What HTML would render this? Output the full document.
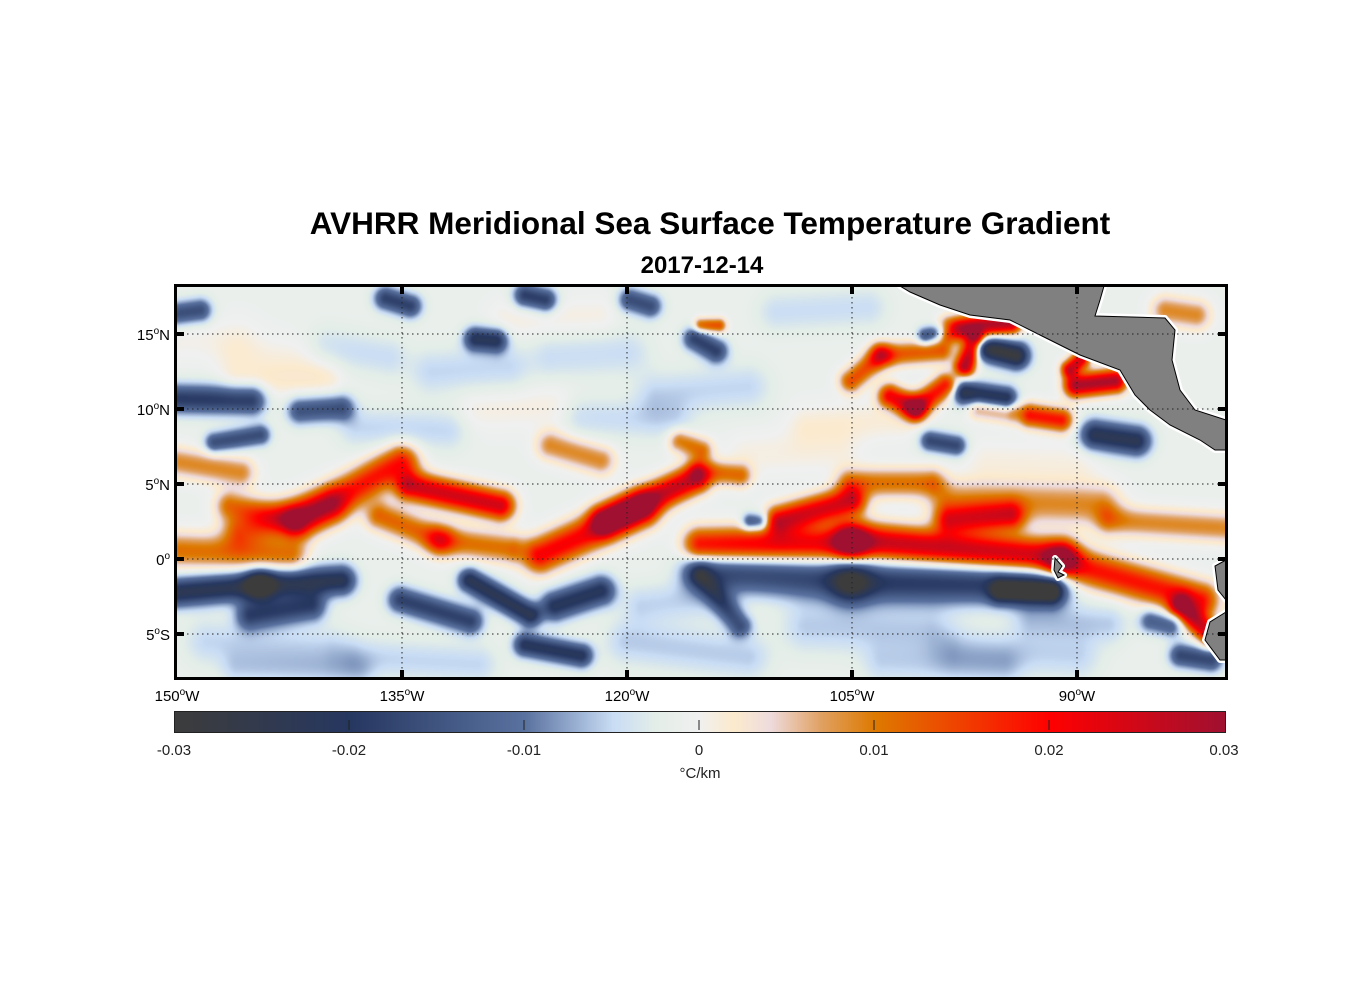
<!DOCTYPE html>
<html><head><meta charset="utf-8">
<style>
body{margin:0;background:#fff;width:1356px;height:1000px;overflow:hidden;position:relative;font-family:"Liberation Sans",sans-serif;}
.t{position:absolute;white-space:nowrap;color:#000;}
</style></head>
<body>
<div class="t" style="left:0;width:1420px;text-align:center;top:205px;font-size:31.5px;font-weight:bold;">AVHRR Meridional Sea Surface Temperature Gradient</div>
<div class="t" style="left:0;width:1404px;text-align:center;top:252px;font-size:24px;font-weight:bold;">2017-12-14</div>
<canvas id="map" width="1050" height="393" style="position:absolute;left:176px;top:286px;"></canvas>
<svg id="ov" width="1356" height="1000" style="position:absolute;left:0;top:0;"></svg>
<canvas id="cb" width="1050" height="20" style="position:absolute;left:174px;top:711px;border:1px solid #222;box-sizing:border-box;"></canvas>
<svg id="cbov" width="1356" height="1000" style="position:absolute;left:0;top:0;"></svg>
<div class="t" style="left:600px;width:200px;text-align:center;top:765px;font-size:15px;color:#222;">°C/km</div>
<script>
// features: [lonW1, lat1, lonW2, lat2, value, halfwidthDeg]
const posStreaks = [
[150,0.6,142.5,0.3,0.012,0.6],[141.8,2.6,135.1,6.5,0.02,0.6],[145.8,1.9,139.8,3.6,0.013,0.6],
[134.5,4.9,128.5,3.6,0.026,0.5],[136.5,2.9,132.5,1.3,0.013,0.5],[132.5,1.3,127.8,0.7,0.012,0.5],
[150,6.5,145.8,5.8,0.01,0.5],[146.5,3.6,142.5,2.6,0.012,0.5],
[125.8,0.3,119.1,3.3,0.022,0.6],[121.5,2.6,115.5,5.4,0.027,0.5],[125.1,7.6,121.8,6.6,0.01,0.5],
[116.5,7.9,115.1,7.3,0.012,0.4],[115.1,5.9,112.5,5.6,0.012,0.4],
[115.1,0.9,105.1,1.1,0.023,0.6],[109.8,2.6,105.1,3.9,0.025,0.5],[105.1,1.3,91.1,0.1,0.027,0.6],
[91.1,-0.1,81.8,-2.7,0.02,0.6],[83.1,-3.1,81.1,-5.1,0.025,0.4],[98.5,2.6,94.5,2.9,0.02,0.5],
[105.1,5.1,99.8,5.1,0.012,0.5],[98.5,3.9,88.5,3.6,0.01,0.7],[87.8,2.6,80,2.1,0.01,0.5],
[105.1,11.9,103.1,13.6,0.015,0.4],[103.1,13.6,99.1,13.9,0.014,0.4],[102.5,10.9,100.8,10.1,0.022,0.4],
[100.8,10.1,98.8,11.6,0.02,0.4],[98.5,15.3,94.5,15.8,0.03,0.4],[96.8,14.6,97.5,12.9,0.03,0.35],
[90.1,11.6,87.5,11.9,0.03,0.4],[90.5,12.7,89.8,13.3,0.025,0.3],[93.1,9.6,91.1,9.3,0.02,0.4],
[96.5,10.2,94.5,9.9,0.012,0.4],[84.1,16.6,82.1,16.3,0.01,0.5],[115.1,15.6,113.9,15.6,0.015,0.25]
];
const negStreaks = [
[150,-2.2,144.5,-1.7,-0.022,0.5],[144.5,-1.7,139.1,-1.4,-0.022,0.5],[145.1,-3.7,141.1,-3.1,-0.017,0.5],
[130.5,-1.4,126.5,-3.7,-0.022,0.4],[135.1,-2.7,130.5,-4.1,-0.017,0.45],[124.8,-3.1,121.8,-2.1,-0.02,0.5],
[126.8,-5.7,123.1,-6.4,-0.02,0.4],[115.1,-0.7,105.1,-1.5,-0.016,0.7],[105.1,-1.5,91.8,-1.7,-0.018,0.7],
[95.1,-2.1,91.8,-2.2,-0.022,0.4],[115.1,-1.1,112.5,-4.4,-0.014,0.4],[150,10.7,145.1,10.6,-0.018,0.5],
[141.8,9.9,139.1,10.1,-0.014,0.45],[147.5,7.8,144.5,8.3,-0.015,0.35],[136.1,17.4,134.5,16.9,-0.017,0.4],
[130.1,14.7,128.8,14.6,-0.02,0.4],[126.8,17.6,125.5,17.3,-0.018,0.4],[119.8,17.3,118.5,16.9,-0.015,0.4],
[115.5,14.7,114.1,13.9,-0.017,0.4],[150,16.4,148.5,16.6,-0.015,0.4],[88.8,8.3,86.1,7.9,-0.022,0.5],
[96.1,14.1,94.1,13.6,-0.028,0.45],[97.5,11.1,94.8,10.7,-0.024,0.4],[99.8,7.9,98.1,7.6,-0.016,0.35],
[83.1,-6.4,81.1,-6.7,-0.016,0.4],[85.1,-4.1,83.8,-4.4,-0.012,0.4],[100.1,14.9,98.8,15.3,-0.015,0.3],
[111.8,2.5,111.2,2.5,-0.015,0.3]
];
const faintStreaks = [
[146,13.5,141,13.2,0.002,0.8],[133,12.5,128,12.8,-0.004,0.8],[140,14.2,136,13.5,-0.0035,0.7],
[125,13.5,120,13.8,-0.0035,0.8],[118,11,112,11.5,-0.004,0.8],[130,10,125,10.3,0.002,0.8],
[148,-5.5,140,-6,-0.004,0.8],[138,-6.5,130,-7,-0.004,0.7],[120,-5.5,112,-6.5,-0.0045,0.8],
[108,-4.5,100,-4.8,-0.0045,0.9],[98,-6,90,-6.5,-0.004,0.8],[112,7,106,7.3,0.002,0.8],
[96,6.5,90,6.3,0.002,0.8],[146,11.8,140,12,0.0025,0.6],[123,9.5,117,9.2,-0.0035,0.7],
[138,8.8,132,8.6,-0.004,0.7],[108,9,102,9.3,0.0025,0.7],[93,-4,88,-4.3,-0.0045,0.7],
[128,16,122,16.2,0.002,0.7],[110,16.5,104,16.8,-0.0035,0.7],[103,-7,95,-7.2,-0.0035,0.7],
[146,-7.3,138,-7.5,-0.0035,0.6],[150,14.5,146,14.8,0.0015,0.8],[119,-3,114,-2.5,-0.004,0.7]
];
const cmapVals = [-0.03,-0.02,-0.01,-0.005,-0.0025,0,0.002,0.004,0.007,0.01,0.015,0.02,0.03];
const cmapCols = [[60,60,60],[38,55,96],[90,114,160],[200,220,245],[228,238,232],[240,240,240],[252,234,205],[238,220,222],[224,160,96],[221,122,0],[240,64,0],[255,0,0],[160,16,48]];
const latTicks = [15,10,5,0,-5];
const lonTicks = [150,135,120,105,90];
const cbTicks = [-0.03,-0.02,-0.01,0,0.01,0.02,0.03];

const X0=177, PX=15, Y0=559;
const xOf = w => X0 + (150-w)*PX;
const yOf = l => Y0 - l*PX;
function cmap(v){
  v=Math.max(-0.03,Math.min(0.03,v));
  for(let i=0;i<cmapVals.length-1;i++){
    if(v<=cmapVals[i+1]){const t=(v-cmapVals[i])/(cmapVals[i+1]-cmapVals[i]);
      const a=cmapCols[i],b=cmapCols[i+1];return [a[0]+(b[0]-a[0])*t,a[1]+(b[1]-a[1])*t,a[2]+(b[2]-a[2])*t];}
  }
  return cmapCols[cmapCols.length-1];
}
const all = posStreaks.concat(negStreaks).concat(faintStreaks);
const cv=document.getElementById('map'), ctx=cv.getContext('2d');
const W=cv.width,H=cv.height, img=ctx.createImageData(W,H);
const segs = all.map(s=>{const ax=xOf(s[0])-176,ay=yOf(s[1])-286,bx=xOf(s[2])-176,by=yOf(s[3])-286;return [ax,ay,bx-ax,by-ay,s[4],s[5]*PX*1.35];});
for(let y=0;y<H;y++)for(let x=0;x<W;x++){
  let f=-0.0012;
  for(const s of segs){
    const L=s[2]*s[2]+s[3]*s[3];let t=L>0?((x-s[0])*s[2]+(y-s[1])*s[3])/L:0;t=Math.max(0,Math.min(1,t));
    const dx=x-s[0]-t*s[2],dy=y-s[1]-t*s[3],d2=dx*dx+dy*dy,w=s[5];
    if(d2<16*w*w) f+=s[4]*Math.exp(-d2/(2*w*w));
  }
  const c=cmap(f),i=(y*W+x)*4;img.data[i]=c[0];img.data[i+1]=c[1];img.data[i+2]=c[2];img.data[i+3]=255;
}
ctx.putImageData(img,0,0);

const NS='http://www.w3.org/2000/svg', ov=document.getElementById('ov');
function mk(tag,attrs,parent){const e=document.createElementNS(NS,tag);for(const k in attrs)e.setAttribute(k,attrs[k]);(parent||ov).appendChild(e);return e;}
const land='M900,286 L1104,286 L1100,300 L1095,316 L1165,318 L1175,330 L1172,360 L1180,390 L1195,410 L1226,420 L1226,450 L1215,450 L1200,440 L1170,425 L1150,410 L1135,395 L1120,370 L1080,355 L1040,335 L1010,320 L970,315 L940,305 L910,292 Z';
const land2='M1226,560 L1215,566 L1218,590 L1226,600 Z M1226,612 L1210,622 L1205,640 L1220,660 L1226,660 Z';
const gal='M1055,558 L1062,566 L1058,572 L1064,575 L1058,578 L1054,570 Z';
let e;
e=mk('path',{d:land+' '+land2+' '+gal,fill:'#fff',stroke:'#fff','stroke-width':6,'stroke-linejoin':'round'});


e=mk('path',{d:land+' '+land2+' '+gal,fill:'#808080',stroke:'#000','stroke-width':1});


for(const l of latTicks){
  const y=yOf(l);
  e=mk('line',{x1:177,x2:1225,y1:y,y2:y,stroke:'#222','stroke-width':1,'stroke-dasharray':'1.5 3.5'});
  
  
  e=mk('rect',{x:176,y:y-2,width:8,height:4,fill:'#000'});
  
  
  e=mk('rect',{x:1218,y:y-2,width:8,height:4,fill:'#000'});
  
  
  const t=mk('text',{x:170,y:y+6,'text-anchor':'end','font-size':15,'font-family':'Liberation Sans'});
  
  
  const a=Math.abs(l);t.innerHTML=a+'<tspan dy="-6" font-size="10">o</tspan><tspan dy="6">'+(l>0?'N':l<0?'S':'')+'</tspan>';
}
for(const w of lonTicks){
  const x=xOf(w);
  if(w!==150){
    e=mk('line',{x1:x,x2:x,y1:287,y2:678,stroke:'#222','stroke-width':1,'stroke-dasharray':'1.5 3.5'});
    
    
    e=mk('rect',{x:x-2,y:286,width:4,height:8,fill:'#000'});
    
    
    e=mk('rect',{x:x-2,y:670,width:4,height:8,fill:'#000'});
    
    
  }
  const t=mk('text',{x:x,y:701,'text-anchor':'middle','font-size':15,'font-family':'Liberation Sans'});
  
  
  t.innerHTML=w+'<tspan dy="-6" font-size="10">o</tspan><tspan dy="6">W</tspan>';
}
e=mk('rect',{x:175.5,y:285.5,width:1051,height:393,fill:'none',stroke:'#000','stroke-width':3});



const cb=document.getElementById('cb'),cc=cb.getContext('2d');
for(let x=0;x<cb.width;x++){const c=cmap(-0.03+0.06*x/(cb.width-1));cc.fillStyle='rgb('+c.map(Math.round).join(',')+')';cc.fillRect(x,0,1,20);}
const cbo=document.getElementById('cbov');
for(const v of cbTicks){
  const x=174+(v+0.03)/0.06*1050;
  if(Math.abs(v)<0.03){
    const l=document.createElementNS(NS,'line');
    l.setAttribute('x1',x);l.setAttribute('x2',x);l.setAttribute('y1',720);l.setAttribute('y2',730);l.setAttribute('stroke','#222');
    
    
    cbo.appendChild(l);
  }
  const t=document.createElementNS(NS,'text');
  t.setAttribute('x',x);t.setAttribute('y',755);t.setAttribute('text-anchor','middle');t.setAttribute('font-size','15');t.setAttribute('fill','#222');t.setAttribute('font-family','Liberation Sans');
  t.textContent=(v===0?'0':v.toFixed(2));
  
  
  cbo.appendChild(t);
}
</script>
</body></html>
